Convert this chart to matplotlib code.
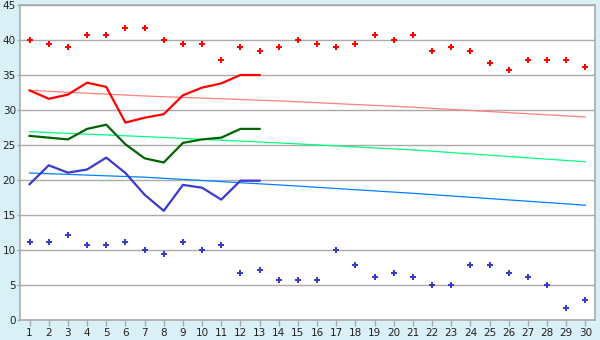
import numpy as np
import matplotlib
matplotlib.use("Agg")
import matplotlib.pyplot as plt

days = list(range(1, 31))

# daily max (diamonds) and min (diamonds), whole month
max_points = [40.0, 39.4, 39.0, 40.7, 40.7, 41.7, 41.7, 40.0, 39.4, 39.4,
              37.2, 39.0, 38.4, 39.0, 40.0, 39.4, 39.0, 39.4, 40.7, 40.0,
              40.7, 38.4, 39.0, 38.4, 36.7, 35.7, 37.2, 37.2, 37.2, 36.1]
min_points = [11.1, 11.1, 12.2, 10.7, 10.7, 11.1, 10.0, 9.4, 11.1, 10.0,
              10.7, 6.7, 7.2, 5.7, 5.7, 5.7, 10.0, 7.8, 6.1, 6.7,
              6.1, 5.0, 5.0, 7.8, 7.8, 6.7, 6.1, 5.0, 1.7, 2.8]

# current month lines (days 1-13)
line_days = list(range(1, 14))
max_line = [32.8, 31.6, 32.2, 33.9, 33.3, 28.2, 28.9, 29.4, 32.1, 33.2, 33.8, 35.0, 35.0]
mean_line = [26.3, 26.05, 25.8, 27.3, 27.9, 25.1, 23.1, 22.5, 25.3, 25.8, 26.05, 27.3, 27.3]
min_line = [19.4, 22.1, 21.05, 21.5, 23.2, 21.0, 17.9, 15.6, 19.3, 18.9, 17.2, 19.9, 19.9]

# normals
normal_days = [1, 7, 14, 21, 30]
normal_max = [32.8, 32.0, 31.3, 30.4, 29.0]
normal_mean = [26.9, 26.2, 25.3, 24.3, 22.6]
normal_min = [21.0, 20.4, 19.3, 18.1, 16.4]

fig = plt.figure(figsize=(6, 3.4), dpi=100, facecolor="#d9f0f6")
ax = fig.add_axes([20 / 600, 20 / 340, 575 / 600, 315 / 340])
ax.set_facecolor("white")

ax.plot(normal_days, normal_max, color="#ff8080", lw=0.9)
ax.plot(normal_days, normal_mean, color="#00ff80", lw=0.9)
ax.plot(normal_days, normal_min, color="#0080ff", lw=0.9)

ax.plot(line_days, max_line, color="#ff0000", lw=1.6)
ax.plot(line_days, mean_line, color="#006400", lw=1.6)
ax.plot(line_days, min_line, color="#3a3acc", lw=1.6)

ax.plot(days, max_points, ls="none", marker="P", ms=5, color="#ff0000", mew=0)
ax.plot(days, min_points, ls="none", marker="P", ms=5, color="#3a3acc", mew=0)

ax.set_xlim(0.5, 30.5)
ax.set_ylim(0, 45)
ax.set_xticks(days)
ax.set_yticks(np.arange(0, 46, 5))
ax.grid(axis="y", color="#aaaaaa", lw=1)
ax.set_axisbelow(True)
for s in ax.spines.values():
    s.set_color("#aaaaaa")
    s.set_linewidth(1.2)
ax.tick_params(axis="both", colors="#aaaaaa", labelcolor="#222222",
               labelsize=7.5, width=1)
ax.tick_params(axis="x", length=4, pad=2)
ax.tick_params(axis="y", length=2, pad=1)

fig.savefig("out.png", dpi=100, facecolor=fig.get_facecolor())
